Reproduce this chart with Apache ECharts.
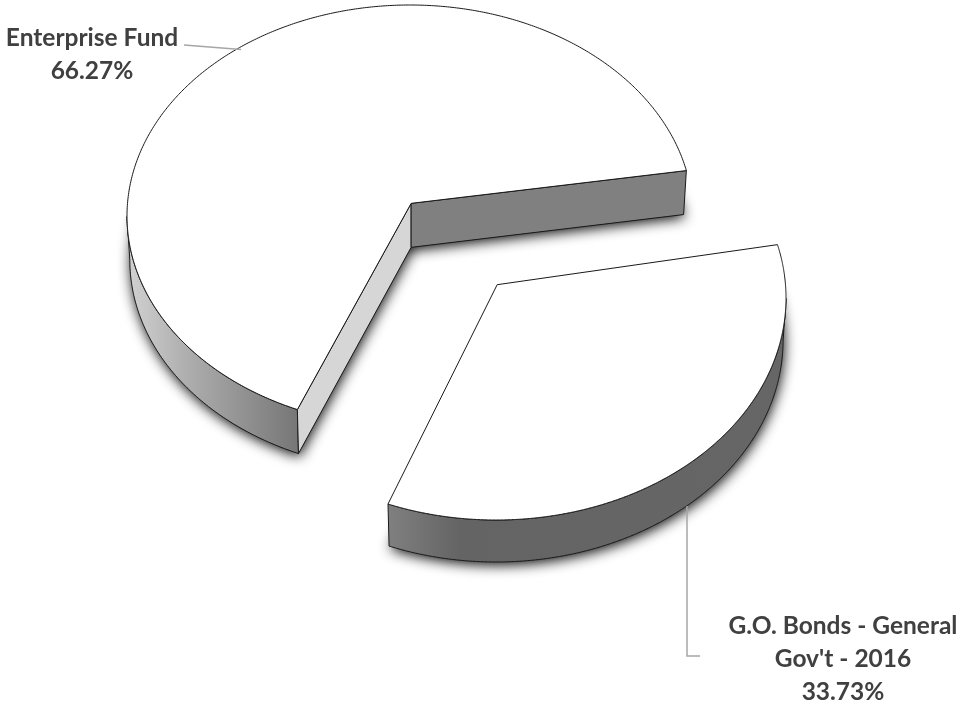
<!DOCTYPE html>
<html>
<head>
<meta charset="utf-8">
<script src="https://cdn.jsdelivr.net/npm/echarts@6/dist/echarts.min.js"></script>
<style>html,body{margin:0;padding:0;background:#fff}#c{width:959px;height:702px}</style>
</head>
<body>
<div id="c"></div>
<script>
const sliceNames = ['G.O. Bonds - General\nGov\'t - 2016', 'Enterprise Fund'];
const sliceValues = [33.73, 66.27];
const startAngle = -10.6;

// layout of each exploded slice
const layouts = [
  { cx: 496, cy: 298, rx: 290, ry: 222, depth: 42, px: 0.002, py: -0.03, turn: 0,
    keep: t => t >= 0,
    wall: [[0, '#808080'], [0.18, '#646464'], [1, '#666666']],
    label: [843, 659], line: [[687, 506], [687, 656], [700, 656]] },
  { cx: 410, cy: 216, rx: 283, ry: 211, depth: 44, px: 0.002, py: -0.03, turn: 1.5,
    keep: t => t >= 90,
    wall: [[0, '#d2d2d2'], [0.35, '#aeaeae'], [1, '#767676']],
    label: [92, 55], line: [[184, 45], [241, 49.5]], walls: ['#d6d6d6', '#808080'] }
];

const total = sliceValues.reduce((a, b) => a + b, 0);
const rad = Math.PI / 180;

function rimPoint(l, deg) {
  const zx = Math.cos(deg * rad), zy = Math.sin(deg * rad);
  const nr = zx + l.px, ni = zy + l.py;
  const dr = 1 + l.px * zx + l.py * zy, di = l.px * zy - l.py * zx;
  const d = dr * dr + di * di;
  const wx = (nr * dr + ni * di) / d, wy = (ni * dr - nr * di) / d;
  const t = Math.atan2(wy, wx) / rad;
  return { p: [l.cx + l.rx * wx, l.cy + l.ry * wy], t };
}
function apexPoint(l) {
  const k = 2 / (1 + l.px * l.px + l.py * l.py);
  return [l.cx + l.rx * l.px * k, l.cy + l.ry * l.py * k];
}
function lower(l, p) {
  return [l.cx + (p[0] - l.cx) * 0.99, p[1] + l.depth];
}

function renderItem(params, api) {
  const i = params.dataIndex;
  const value = api.value(0);
  const l = layouts[i];
  let from = startAngle + l.turn;
  for (let k = 0; k < i; k++) from += sliceValues[k] / total * 360;
  const sweep = value / total * 360;
  const rim = [];
  for (let s = 0; s <= 480; s++) rim.push(rimPoint(l, from + sweep * s / 480));
  const apex = apexPoint(l);
  const arc = rim.map(r => r.p);
  const face = [apex].concat(arc);
  const bottom = face.map(p => lower(l, p));
  const vis = rim.filter(r => l.keep(r.t)).map(r => r.p);
  const ink = { stroke: '#1a1a1a', lineWidth: 1 };
  const kids = [];
  kids.push({ type: 'polygon', shape: { points: bottom },
    style: { fill: '#333', shadowBlur: 13, shadowColor: 'rgba(0,0,0,0.95)', shadowOffsetX: 1, shadowOffsetY: 3 } });
  kids.push({ type: 'polygon', shape: { points: vis.concat(vis.slice().reverse().map(p => lower(l, p))) },
    style: Object.assign({ fill: { type: 'linear', x: 0, y: 0, x2: 1, y2: 0,
      colorStops: l.wall.map(s => ({ offset: s[0], color: s[1] })) } }, ink) });
  if (l.walls) {
    const ends = [arc[0], arc[arc.length - 1]];
    ends.forEach((e, w) => {
      kids.push({ type: 'polygon', shape: { points: [apex, e, lower(l, e), lower(l, apex)] },
        style: Object.assign({ fill: l.walls[w] }, ink) });
    });
  }
  kids.push({ type: 'polygon', shape: { points: face }, style: Object.assign({ fill: '#ffffff' }, ink) });
  kids.push({ type: 'polyline', shape: { points: l.line },
    style: { fill: 'none', stroke: '#a6a6a6', lineWidth: 1.5 } });
  kids.push({ type: 'text', x: l.label[0], y: l.label[1],
    style: { text: api.value(1) + '\n' + value.toFixed(2) + '%', align: 'center', verticalAlign: 'middle',
      font: 'bold 24.5px Lato', lineHeight: 33, fill: '#404040' } });
  return { type: 'group', children: kids };
}

const chart = echarts.init(document.getElementById('c'), null, { renderer: 'canvas' });
chart.setOption({
  animation: false,
  backgroundColor: '#ffffff',
  series: [{
    type: 'custom',
    coordinateSystem: 'none',
    silent: true,
    renderItem,
    encode: {},
    data: sliceValues.map((v, i) => [v, sliceNames[i]])
  }]
});
</script>
</body>
</html>
